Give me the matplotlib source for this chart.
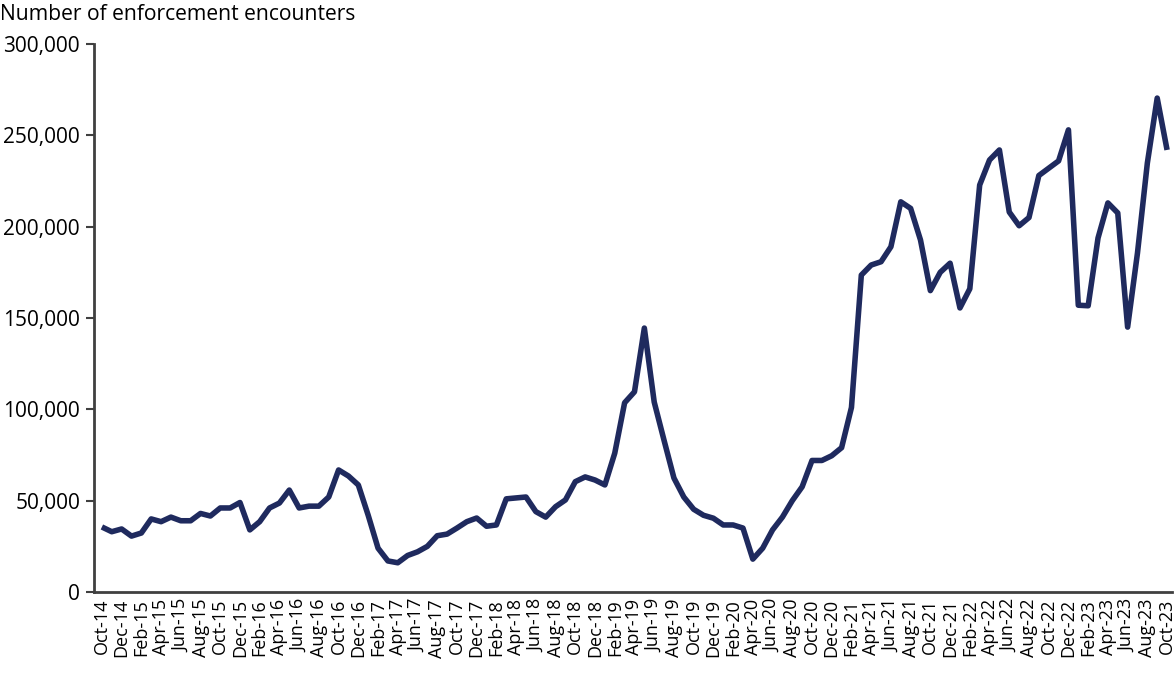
import matplotlib
matplotlib.use("Agg")
import matplotlib.pyplot as plt
from matplotlib.ticker import FuncFormatter
import numpy as np

LINE_COLOR = "#1f2a5e"
AXIS_COLOR = "#404040"
FONT = ["Open Sans", "DejaVu Sans"]

# monthly enforcement encounters, Oct-14 .. Oct-23
MONTHS = ["Oct", "Nov", "Dec", "Jan", "Feb", "Mar", "Apr", "May", "Jun",
          "Jul", "Aug", "Sep"]
START_YEAR = 14
N_MONTHS = 109

encounters = [
    35600, 33000, 34500, 30600, 32300, 40000, 38500, 41000, 39000, 39000, 43000, 41600,   # FY15
    46000, 46000, 49000, 34000, 38500, 46000, 48700, 55800, 46000, 47000, 47000, 52000,   # FY16
    66800, 63500, 58600, 42000, 24000, 17000, 16000, 20000, 22000, 25000, 30800, 31700,   # FY17
    35000, 38500, 40500, 36000, 36700, 51000, 51500, 52000, 44000, 41000, 46700, 50400,   # FY18
    60400, 63000, 61300, 58600, 76000, 103600, 109600, 144500, 104000, 83000, 62400, 52000,  # FY19
    45300, 42000, 40400, 36700, 36700, 35000, 18000, 24000, 34000, 41000, 50000, 57600,   # FY20
    72000, 72000, 74600, 79000, 101000, 173500, 179000, 180800, 189000, 213600, 210000, 192700,  # FY21
    165000, 175000, 180000, 155500, 166000, 222800, 236500, 242000, 208000, 200500, 205000, 228000,  # FY22
    232000, 236000, 253000, 157000, 156700, 193800, 213000, 207500, 145000, 185600, 234800, 270400,  # FY23
    242000,
]

labels = []
for i in range(N_MONTHS):
    m = MONTHS[i % 12]
    yr = START_YEAR + (i + 9) // 12
    labels.append("%s-%02d" % (m, yr))

x = np.arange(len(encounters))

plt.rcParams["font.family"] = FONT

fig = plt.figure(figsize=(11.76, 6.77), dpi=100)
ax = fig.add_axes([94 / 1176, 85 / 677, (1172 - 94) / 1176, (592 - 44) / 677])

ax.plot(x, encounters, color=LINE_COLOR, lw=4, solid_joinstyle="round",
        solid_capstyle="butt")

ax.set_xlim(-0.8, N_MONTHS - 0.5)
ax.set_ylim(0, 300000)
ax.set_yticks(np.arange(0, 300001, 50000))
ax.yaxis.set_major_formatter(FuncFormatter(lambda v, p: "{:,.0f}".format(v)))

ax.set_xticks(x[::2])
ax.set_xticklabels(labels[::2], rotation=90)

ax.tick_params(axis="y", length=6, width=1.5, color=AXIS_COLOR, labelsize=15,
               labelcolor="black", pad=4)
ax.tick_params(axis="x", length=0, labelsize=13, labelcolor="black", pad=5)

for side in ["top", "right"]:
    ax.spines[side].set_visible(False)
for side in ["left", "bottom"]:
    ax.spines[side].set_color(AXIS_COLOR)
    ax.spines[side].set_linewidth(2)

fig.text(0.0, 1 - 14 / 677, "Number of enforcement encounters", fontsize=15.2,
         ha="left", va="center")

fig.savefig("out.png", dpi=100)
